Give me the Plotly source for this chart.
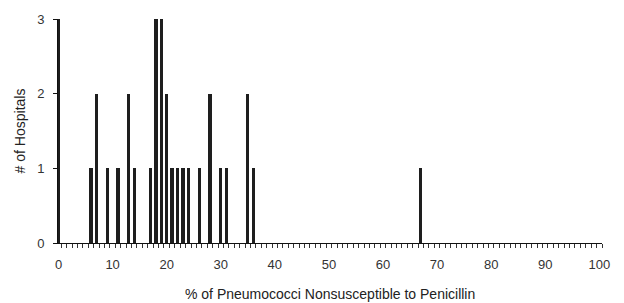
import plotly.graph_objects as go

pct_values = [0, 6, 7, 9, 11, 13, 14, 17, 18, 19, 20, 21, 22, 23, 24, 26, 28, 30, 31, 35, 36, 67]
hospital_counts = [3, 1, 2, 1, 1, 2, 1, 1, 3, 3, 2, 1, 1, 1, 1, 1, 2, 1, 1, 2, 1, 1]
x_tick_vals = [0, 10, 20, 30, 40, 50, 60, 70, 80, 90, 100]
y_tick_vals = [0, 1, 2, 3]
x_title = "% of Pneumococci Nonsusceptible to Penicillin"
y_title = "# of Hospitals"

font_family = "Liberation Sans, Arial, sans-serif"

fig = go.Figure(
    go.Bar(
        x=pct_values,
        y=hospital_counts,
        width=0.6,
        marker=dict(color="#1e1e1e", line=dict(width=0)),
    )
)

fig.update_layout(
    width=624,
    height=303,
    margin=dict(l=58, r=22, t=17, b=60),
    plot_bgcolor="white",
    paper_bgcolor="white",
    showlegend=False,
    font=dict(family=font_family, size=13, color="#222"),
    bargap=0,
    annotations=[
        dict(
            text=x_title,
            x=0.5,
            xref="paper",
            y=0,
            yref="paper",
            yanchor="top",
            xanchor="center",
            yshift=-41,
            showarrow=False,
            font=dict(size=14, color="#222"),
        )
    ],
)

fig.update_xaxes(
    range=[-0.1, 100.5],
    tickvals=x_tick_vals,
    ticktext=[str(v) for v in x_tick_vals],
    ticks="outside",
    ticklen=9,
    tickcolor="rgba(0,0,0,0)",
    showline=True,
    linecolor="#111",
    linewidth=1,
    showgrid=False,
    zeroline=False,
    automargin=False,
    minor=dict(tick0=0.5, dtick=1, ticks="outside", ticklen=4, tickcolor="#333", tickwidth=1, showgrid=False),
    tickfont=dict(size=13, color="#333"),
)

fig.update_yaxes(
    range=[0, 3],
    tickvals=y_tick_vals,
    ticks="outside",
    ticklen=4,
    tickcolor="#111",
    ticklabelstandoff=6,
    showline=True,
    linecolor="#111",
    linewidth=1,
    showgrid=False,
    zeroline=False,
    tickfont=dict(size=13, color="#333"),
    title=dict(text=y_title, font=dict(size=14, color="#222"), standoff=8),
)

fig.write_html(
    "out.html",
    config={"displayModeBar": False},
    post_script="document.body.style.margin='0';document.body.style.padding='0';",
)
